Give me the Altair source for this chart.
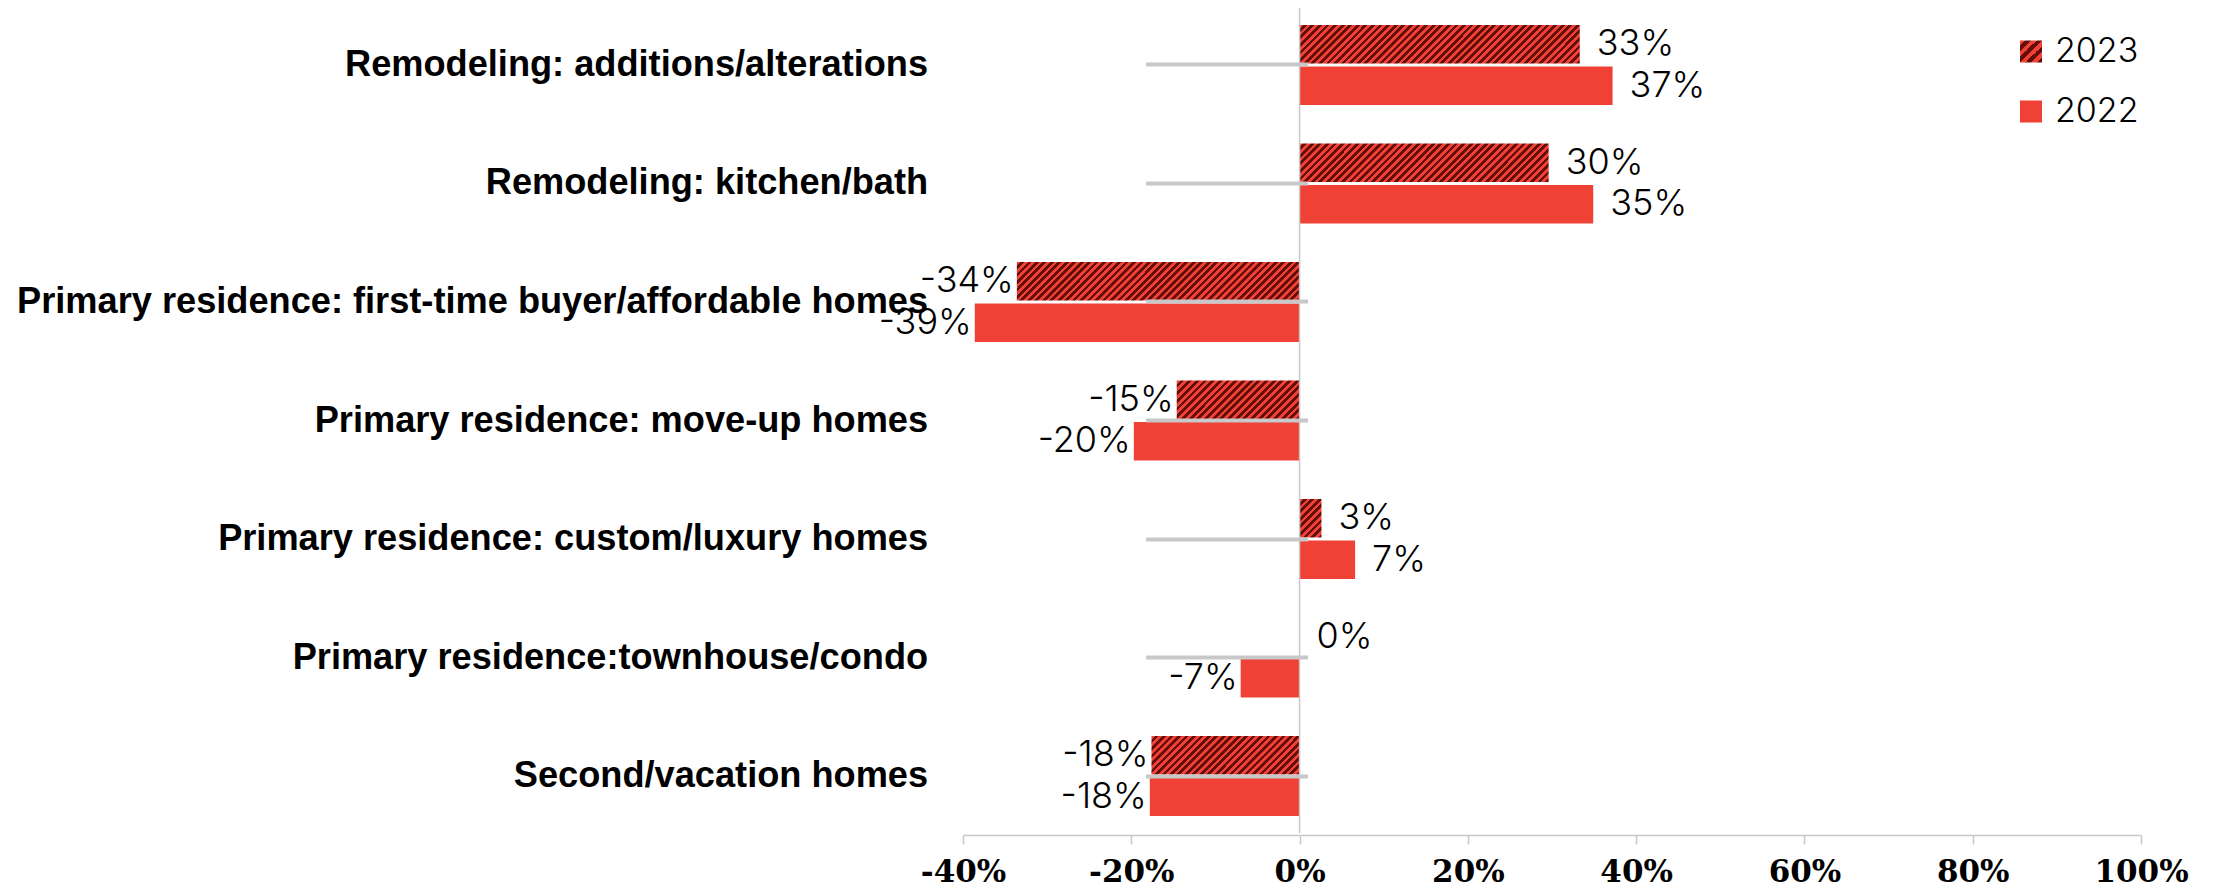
import altair as alt

categories = [
    "Remodeling: additions/alterations",
    "Remodeling: kitchen/bath",
    "Primary residence: first-time buyer/affordable homes",
    "Primary residence: move-up homes",
    "Primary residence: custom/luxury homes",
    "Primary residence:townhouse/condo",
    "Second/vacation homes",
]
values_2023 = [0.333, 0.296, -0.336, -0.146, 0.026, 0.0, -0.176]
values_2022 = [0.372, 0.349, -0.386, -0.197, 0.066, -0.070, -0.178]
years = ["2023", "2022"]
x_ticks = [-0.4, -0.2, 0.0, 0.2, 0.4, 0.6, 0.8, 1.0]

RED = "#ef4136"
DARK = "#650d08"
GRAY = "#c8c8c8"
W, H = 1178, 825
X_MIN, X_MAX = -0.4, 1.0
BAR_H = 38.4
STRIPE = 7.5
LABEL_FONT = "Inter"
CAT_FONT = "Liberation Sans"
AXIS_FONT = "DejaVu Serif"


def stripe_stops(n):
    stops = []
    for i in range(n):
        a, b, c = i / n, (i + 0.5) / n, (i + 1) / n
        stops += [
            {"offset": round(a, 5), "color": RED},
            {"offset": round(b, 5), "color": RED},
            {"offset": round(b, 5), "color": DARK},
            {"offset": round(c, 5), "color": DARK},
        ]
    return stops


def hatch(v):
    w = max(abs(v) * W / (X_MAX - X_MIN), 0.5)
    h = BAR_H
    k = (w + h) / (w * w + h * h)
    n = max(1, round((w + h) / STRIPE))
    return {"gradient": "linear", "x1": 0, "y1": 0,
            "x2": round(w * k, 5), "y2": round(h * k, 5), "stops": stripe_stops(n)}


rows = []
for cat, v23, v22 in zip(categories, values_2023, values_2022):
    rows.append({"category": cat, "year": "2023", "value": v23, "fill": hatch(v23)})
    rows.append({"category": cat, "year": "2022", "value": v22, "fill": RED})
data = alt.Data(values=rows)

legend_stops = stripe_stops(4)
legend_grad = "{gradient:'linear',x1:0,y1:0,x2:1,y2:1,stops:[" + ",".join(
    "{offset:%s,color:'%s'}" % (s["offset"], s["color"]) for s in legend_stops) + "]}"

x_axis = alt.Axis(
    title=None, values=x_ticks, format=".0%",
    labelExpr="replace(datum.label, '\u2212', '-')",
    grid=False, domainColor=GRAY, domainWidth=1.5, tickColor=GRAY, tickWidth=1.5,
    tickSize=9, offset=2, labelPadding=13, labelFont=AXIS_FONT, labelFontSize=31,
    labelFontWeight="bold", labelColor="black", labelFlush=False, labelOverlap=False,
)
x_scale = alt.Scale(domain=[X_MIN, X_MAX], nice=False, zero=False)


def x_enc(field):
    return alt.X(f"{field}:Q", scale=x_scale, axis=x_axis)


y_enc = alt.Y(
    "category:N", sort=categories,
    scale=alt.Scale(paddingInner=0.325, paddingOuter=0.143),
    axis=alt.Axis(
        title=None, orient="left", offset=-344.6, domain=False, ticks=True,
        tickSize=162, tickWidth=4, tickColor=GRAY, labelPadding=218,
        labelFont=CAT_FONT, labelFontSize=36.2, labelFontWeight="bold",
        labelColor="black", labelLimit=1400, zindex=1,
    ),
)
yoff = alt.YOffset("year:N", sort=years, scale=alt.Scale(domain=years, paddingInner=0.075, paddingOuter=0))

bars = alt.Chart(data).mark_bar().encode(
    x=x_enc("value"), y=y_enc, yOffset=yoff,
    fill=alt.Fill("fill:N", scale=None, legend=None),
)

zero_rule = alt.Chart(alt.Data(values=[{"zero": 0}])).mark_rule(
    color=GRAY, strokeWidth=1.5
).encode(x=x_enc("zero"))

label_expr = "replace(format(datum.value, '.0%'), '\u2212', '-')"
text_props = dict(baseline="middle", font=LABEL_FONT, fontSize=36, fontWeight=300, color="black")

pos_text = alt.Chart(data).transform_filter("datum.value >= 0").transform_calculate(
    label=label_expr
).mark_text(align="left", dx=17, **text_props).encode(
    x=x_enc("value"), y=y_enc, yOffset=yoff, text="label:N"
)
neg_text = alt.Chart(data).transform_filter("datum.value < 0").transform_calculate(
    label=label_expr
).mark_text(align="right", dx=-3, **text_props).encode(
    x=x_enc("value"), y=y_enc, yOffset=yoff, text="label:N"
)

legend_layer = alt.Chart(data).transform_filter("false").mark_square(filled=True, opacity=1).encode(
    color=alt.Color(
        "year:N",
        scale=alt.Scale(domain=years, range=[alt.ExprRef(expr=legend_grad), RED]),
        legend=alt.Legend(
            title=None, orient="none", legendX=1051, legendY=26.5,
            symbolType="square", symbolSize=484, symbolStrokeWidth=0, symbolOpacity=1,
            labelFont=LABEL_FONT, labelFontSize=34, labelFontWeight=300,
            labelColor="black", labelOffset=7, rowPadding=26, padding=0,
        ),
    )
)

chart = alt.layer(bars, zero_rule, pos_text, neg_text, legend_layer).properties(
    width=W, height=H,
    padding={"left": 955, "top": 0, "right": 50, "bottom": 56},
    autosize=alt.AutoSizeParams(type="none"),
).configure_view(stroke=None)

chart.save("out.html", embed_options={"renderer": "svg", "actions": False})
